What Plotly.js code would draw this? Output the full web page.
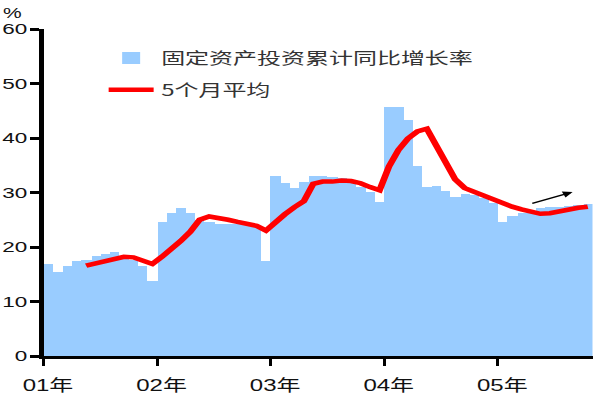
<!DOCTYPE html>
<html>
<head>
<meta charset="utf-8">
<script src="https://cdn.plot.ly/plotly-3.0.1.min.js"></script>
<style>
html,body{margin:0;padding:0;background:#fff;overflow:hidden;}
#wrap{width:600px;height:400px;overflow:hidden;}
#chart{width:400px;height:400px;transform:scaleX(1.5);transform-origin:0 0;}
</style>
</head>
<body>
<div id="wrap"><div id="chart"></div></div>
<script>
// Tick labels (one per year)
const yearLabels = ['01年', '02年', '03年', '04年', '05年'];

// Monthly categories, Jan 2001 - Oct 2005
const months = [];
for (let y = 2001; y <= 2005; y++) {
  for (let m = 1; m <= 12; m++) {
    if (y === 2005 && m > 10) break;
    months.push(y + '-' + String(m).padStart(2, '0'));
  }
}

// 固定资产投资累计同比增长率 (%)
const fai2001 = [16.9, 15.5, 16.5, 17.5, 17.7, 18.3, 18.8, 19.0, 18.0, 17.6, 16.5, 13.8];
const fai2002 = [24.5, 26.3, 27.1, 26.2, 25.0, 24.6, 24.3, 24.3, 24.2, 24.0, 23.6, 17.5];
const fai2003 = [33.0, 31.7, 30.8, 31.9, 33.0, 33.0, 32.8, 32.6, 32.3, 31.1, 30.1, 28.3];
const fai2004 = [45.6, 45.6, 43.3, 34.9, 31.1, 31.2, 30.3, 29.2, 29.7, 29.6, 29.0, 28.0];
const fai2005 = [24.6, 25.7, 26.2, 26.5, 27.1, 27.3, 27.4, 27.6, 27.7, 27.8];
const faiGrowth = [].concat(fai2001, fai2002, fai2003, fai2004, fai2005);

// 5个月平均 (%), May 2001 - Oct 2005
const avg5 = [16.6, 17.0, 17.5, 17.9, 18.2, 18.1, 17.6, 16.9,
  18.2, 19.6, 21.1, 22.8, 25.0, 25.6, 25.4, 25.0, 24.6, 24.3, 23.9, 23.0,
  24.6, 26.0, 27.3, 28.4, 31.6, 32.0, 32.0, 32.2, 32.1, 31.7, 31.0, 30.4,
  34.8, 37.8, 39.9, 41.2, 41.7, 38.6, 35.2, 32.4, 30.8, 30.1, 29.6, 28.9,
  28.0, 27.4, 26.9, 26.4, 26.1, 26.2, 26.6, 27.0, 27.2, 27.4];
const avgMonths = months.slice(months.length - avg5.length);

const idx = m => months.indexOf(m);

const barTrace = {
  type: 'bar',
  name: '固定资产投资累计同比增长率',
  x: months.map(idx),
  y: faiGrowth,
  text: months,
  hovertemplate: '%{text}: %{y}%<extra></extra>',
  textposition: 'none',
  width: 1,
  marker: {color: '#99CCFF', line: {width: 0}},
  legendgroup: 'a'
};

const lineTrace = {
  type: 'scatter',
  mode: 'lines',
  name: '5个月平均',
  x: avgMonths.map(idx),
  y: avg5,
  text: avgMonths,
  hovertemplate: '%{text}: %{y}%<extra></extra>',
  line: {color: '#FF0000', width: 4.5},
  legendgroup: 'b'
};

const fontFam = 'Liberation Sans, Arial, Noto Sans CJK SC, sans-serif';

const layout = {
  width: 400,
  height: 400,
  margin: {l: 29, r: 5, t: 29, b: 44, pad: 0},
  paper_bgcolor: '#ffffff',
  plot_bgcolor: '#ffffff',
  font: {family: fontFam, color: '#111111', size: 16},
  bargap: 0,
  showlegend: true,
  legend: {
    x: 0.105, y: 0.963, xanchor: 'left', yanchor: 'top',
    bgcolor: 'rgba(0,0,0,0)',
    font: {family: 'Noto Sans CJK SC, Liberation Sans, sans-serif', size: 16, color: '#333333'},
    tracegroupgap: 8,
    itemwidth: 30,
    traceorder: 'grouped'
  },
  xaxis: {
    type: 'linear',
    range: [-0.5, months.length - 0.5],
    tickmode: 'array',
    tickvals: yearLabels.map((_, k) => idx(String(2001 + k) + '-01') - 0.5),
    ticktext: yearLabels,
    ticks: 'outside', ticklen: 7, tickwidth: 2, tickcolor: '#000',
    ticklabelshift: 3,
    ticklabelstandoff: 6,
    showline: true, linewidth: 3, linecolor: '#000',
    showgrid: false, zeroline: false,
    tickfont: {family: 'Liberation Sans, Noto Sans CJK SC, sans-serif', size: 16, color: '#111'}
  },
  yaxis: {
    range: [0, 60],
    tickmode: 'linear', tick0: 0, dtick: 10,
    ticks: 'outside', ticklen: 6, tickwidth: 2.5, tickcolor: '#000',
    ticklabelstandoff: -1,
    showline: true, linewidth: 2.7, linecolor: '#000',
    showgrid: false, zeroline: false,
    tickfont: {family: 'Liberation Sans, sans-serif', size: 15, color: '#111'}
  },
  annotations: [
    {
      text: '%', xref: 'paper', yref: 'paper',
      x: -0.078, y: 1.05, xanchor: 'left', yanchor: 'middle',
      showarrow: false, font: {size: 14, color: '#111'}
    },
    {
      text: '', xref: 'x', yref: 'y', axref: 'x', ayref: 'y',
      x: 55.4, y: 30.1, ax: 50.9, ay: 27.9,
      showarrow: true, arrowhead: 2, arrowsize: 1, arrowwidth: 1.3, arrowcolor: '#000'
    }
  ]
};

Plotly.newPlot('chart', [barTrace, lineTrace], layout, {displayModeBar: false, responsive: false});
</script>
</body>
</html>
